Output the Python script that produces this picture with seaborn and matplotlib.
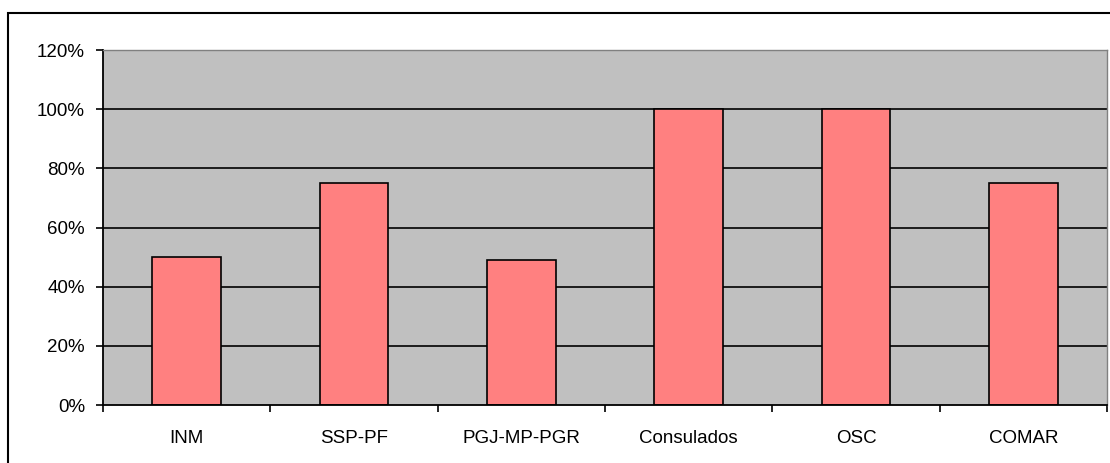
import matplotlib
matplotlib.use("Agg")
import matplotlib.pyplot as plt
from matplotlib.patches import Rectangle
from matplotlib.ticker import PercentFormatter, FixedLocator
import pandas as pd
import seaborn as sns

categories = ['INM', 'SSP-PF', 'PGJ-MP-PGR', 'Consulados', 'OSC', 'COMAR']
values = [50, 75, 49, 100, 100, 75]
y_ticks = [0, 20, 40, 60, 80, 100, 120]

df = pd.DataFrame({'cat': categories, 'val': values})

sns.set_style('white')
plt.rcParams['font.family'] = ['Liberation Sans', 'DejaVu Sans']
plt.rcParams['text.color'] = 'black'
plt.rcParams['xtick.color'] = 'black'
plt.rcParams['ytick.color'] = 'black'

fig = plt.figure(figsize=(11.1, 4.63), dpi=100)
ax = fig.add_axes([103 / 1110, 1 - 405 / 463, (1107 - 103) / 1110, (405 - 50) / 463])
ax.set_facecolor('#C0C0C0')

# outer chart frame
fig.patches.append(Rectangle((8 / 1110, -0.01), 1.1, 1 - 13 / 463 + 0.01,
                             transform=fig.transFigure, fill=False,
                             edgecolor='black', linewidth=1.5))

for y in y_ticks[1:-1]:
    ax.axhline(y, color='black', linewidth=1.2, zorder=1)

sns.barplot(data=df, x='cat', y='val', color='#FF8080', saturation=1,
            width=0.41, edgecolor='black', linewidth=1.2, ax=ax, zorder=2)

ax.set_ylim(0, 120)
ax.set_xlim(-0.5, len(categories) - 0.5)
ax.set_yticks(y_ticks)
ax.yaxis.set_major_formatter(PercentFormatter(decimals=0))
ax.set_xlabel('')
ax.set_ylabel('')

# category boundary ticks, labels centred
ax.xaxis.set_major_locator(FixedLocator([i - 0.5 for i in range(len(categories) + 1)]))
ax.xaxis.set_minor_locator(FixedLocator(list(range(len(categories)))))
ax.xaxis.set_major_formatter(plt.NullFormatter())
ax.set_xticklabels(categories, minor=True)
ax.tick_params(axis='x', which='major', bottom=True, direction='out', length=5, width=1.2, color='black')
ax.tick_params(axis='x', which='minor', bottom=True, length=0, pad=18, labelsize=13.5, labelcolor='black')
ax.tick_params(axis='y', left=True, direction='out', length=5, width=1.2, color='black',
               labelsize=13.5, pad=8, labelcolor='black')

for s in ['left', 'bottom']:
    ax.spines[s].set_color('black')
    ax.spines[s].set_linewidth(1.3)
for s in ['top', 'right']:
    ax.spines[s].set_color('#808080')
    ax.spines[s].set_linewidth(1)

fig.savefig('out.png', dpi=100)
